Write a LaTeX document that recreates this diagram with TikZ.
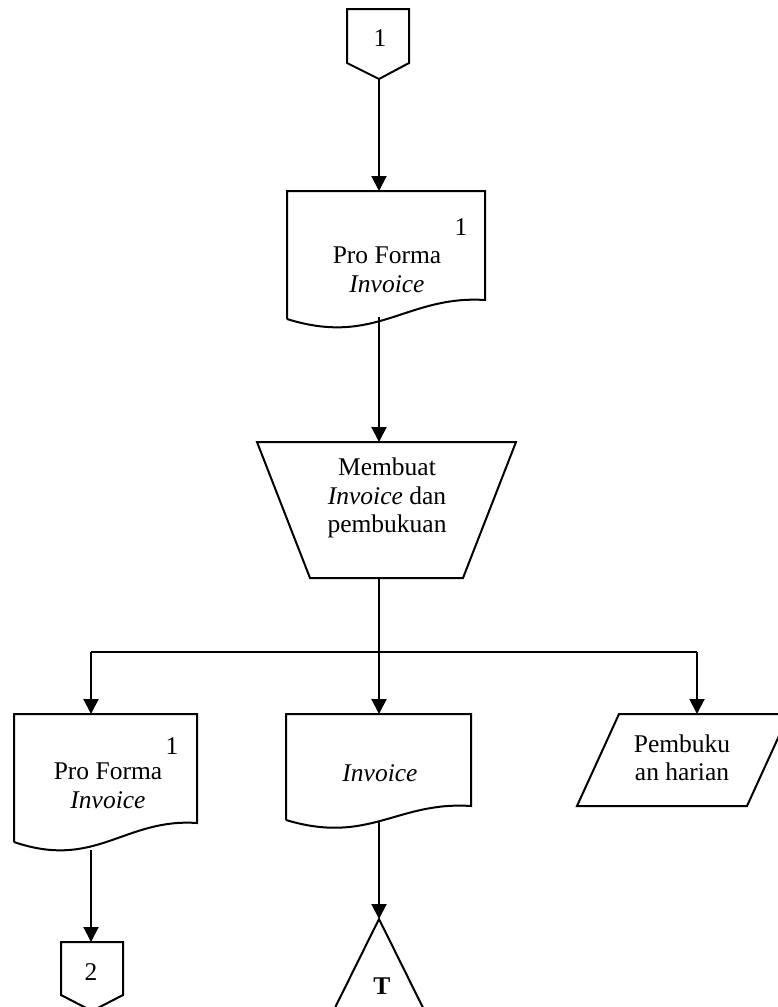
\documentclass[tikz,border=0pt]{standalone}
\usepackage{fontspec}
\setmainfont{Liberation Serif}
\usetikzlibrary{arrows.meta}
\begin{document}
\begin{tikzpicture}[x=1pt,y=-1pt,line width=2pt,
  outline/.style={draw,line join=miter},
  arr/.style={-{Triangle[length=15pt,width=15pt]}},
  lbl/.style={font=\fontsize{25.5}{28.5}\selectfont,align=center,inner sep=0pt}]
\clip (0,0) rectangle (778,1007);
% connector 1
\draw[outline] (347,9) -- (409,9) -- (409,63) -- (379,79) -- (347,63) -- cycle;
\node[lbl] (c1txt) at (380,38) {1};
\coordinate (c1b) at (379,79);
% document 1
\draw[outline] (287,319) -- (287,191) -- (485,191) -- (485,300)
  .. controls (406,295) and (376,347) .. (287,319);
\node[lbl] (d1num) at (461,227) {1};
\node[lbl] (d1txt) at (387,270) {Pro Forma\\\textit{Invoice}};
\coordinate (d1t) at (379,191);
\coordinate (d1b) at (379,317);
% trapezoid
\draw[outline] (257,442) -- (516,442) -- (463,578) -- (310,578) -- cycle;
\node[lbl] (trtxt) at (387,498) {Membuat\\\textit{Invoice} dan\\pembukuan};
\coordinate (trt) at (379,442);
\coordinate (trb) at (379,578);
% branch
\coordinate (br) at (379,652);
\coordinate (brl) at (91,652);
\coordinate (brr) at (697,652);
% left document
\draw[outline] (14,842) -- (14,714) -- (197,714) -- (197,823)
  .. controls (124,818) and (96,870) .. (14,842);
\node[lbl] (d2num) at (172,746) {1};
\node[lbl] (d2txt) at (108,786) {Pro Forma\\\textit{Invoice}};
\coordinate (d2t) at (91,714);
\coordinate (d2b) at (91,850);
% middle document
\draw[outline] (286,820) -- (286,714) -- (471,714) -- (471,806)
  .. controls (397,801) and (369,845) .. (286,820);
\node[lbl] (d3txt) at (380,773) {\textit{Invoice}};
\coordinate (d3t) at (379,714);
\coordinate (d3b) at (379,822);
% parallelogram
\draw[outline] (619,714) -- (789,714) -- (747,806) -- (577,806) -- cycle;
\node[lbl] (ptxt) at (682,758) {Pembuku\\an harian};
\coordinate (pt) at (697,714);
% connector 2
\draw[outline] (61,942) -- (123,942) -- (123,995) -- (92,1011) -- (61,995) -- cycle;
\node[lbl] (c2txt) at (91,972) {2};
\coordinate (c2t) at (91,942);
% triangle
\draw[outline] (319,1040) -- (379,919) -- (439,1040);
\node[lbl,font=\fontsize{25.5}{28.5}\selectfont\bfseries] (ttxt) at (382,986) {T};
\coordinate (tt) at (379,919);
% connectors
\draw[arr] (c1b) -- (d1t);
\draw[arr] (d1b) -- (trt);
\draw (trb) -- (br);
\draw (brl) -- (brr);
\draw[arr] (brl) -- (d2t);
\draw[arr] (br) -- (d3t);
\draw[arr] (brr) -- (pt);
\draw[arr] (d2b) -- (c2t);
\draw[arr] (d3b) -- (tt);
\end{tikzpicture}
\end{document}
